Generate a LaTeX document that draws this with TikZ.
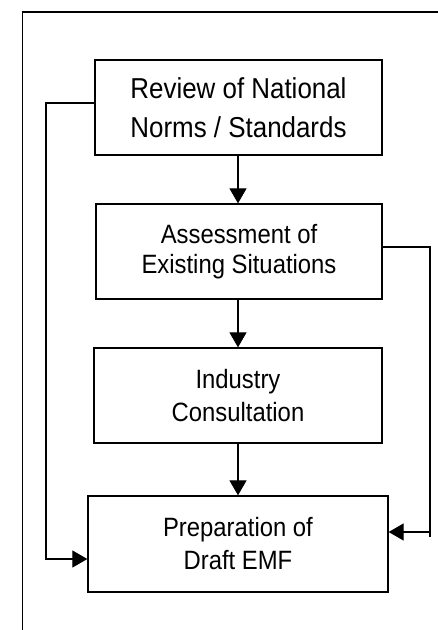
\documentclass[tikz,border=0pt]{standalone}
\usepackage{fontspec}
\setmainfont{Liberation Sans}[FakeStretch=0.9]
\usetikzlibrary{arrows.meta}
\begin{document}
\begin{tikzpicture}[x=1pt,y=-1pt,
  box/.style={draw,line width=1.3pt,inner sep=0pt,align=center,anchor=center},
  conn/.style={line width=1.2pt},
  arr/.style={line width=1.2pt,-{Triangle[length=15pt,width=17pt]}},
  bigtext/.style={font=\fontsize{28.8}{39}\selectfont},
  normtext/.style={font=\fontsize{26.5}{30}\selectfont},
  widetext/.style={font=\fontsize{26.5}{33}\selectfont}]
\useasboundingbox (0,0) rectangle (437,630);
% open frame
\coordinate (fTR) at (440,12);
\coordinate (fTL) at (22.5,12);
\coordinate (fBL) at (22.5,632);
\draw[conn] (fTR) -- (fTL) -- (fBL);
% boxes
\node[box,bigtext,minimum width=287pt,minimum height=95pt] (b1) at (238.5,107.5) {Review of National\\Norms / Standards};
\node[box,normtext,minimum width=286pt,minimum height=95pt] (b2) at (239,251.5) {Assessment of\\Existing Situations};
\node[box,widetext,minimum width=288pt,minimum height=95pt] (b3) at (238,395.5) {Industry\\Consultation};
\node[box,widetext,minimum width=300pt,minimum height=96pt] (b4) at (238,544) {Preparation of\\Draft EMF};
% vertical arrows
\coordinate (a1) at (238,155);
\coordinate (a2) at (238,299);
\coordinate (a3) at (238,443);
\draw[arr] (a1) -- (a1 |- b2.north);
\draw[arr] (a2) -- (a2 |- b3.north);
\draw[arr] (a3) -- (a3 |- b4.north);
% left feedback
\coordinate (l1) at (46,103);
\coordinate (l2) at (46,559);
\draw[arr] ([yshift=4.5pt]b1.west) -- (l1) -- (l2) -- ([yshift=-15pt]b4.west);
% right feedback
\coordinate (r1) at (430,247);
\coordinate (r2) at (430,537);
\coordinate (r3) at (430,532);
\draw[conn] ([yshift=4.5pt]b2.east) -- (r1) -- (r2);
\draw[arr] (r3) -- ([yshift=12pt]b4.east);
\end{tikzpicture}
\end{document}
